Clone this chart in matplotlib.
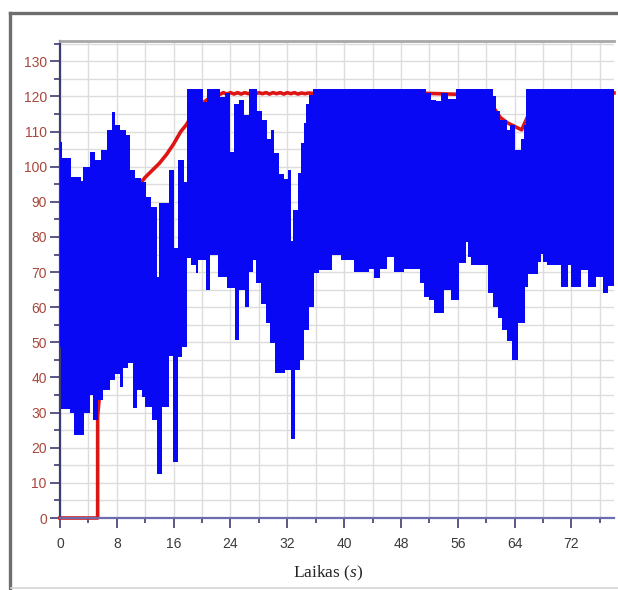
import matplotlib
matplotlib.use("Agg")
import matplotlib.pyplot as plt
import numpy as np
from matplotlib.lines import Line2D
from matplotlib.ticker import MultipleLocator

plt.rcParams["mathtext.fontset"] = "custom"
plt.rcParams["mathtext.rm"] = "Liberation Serif"
plt.rcParams["mathtext.it"] = "Liberation Serif:italic"

# --- signal envelope (blue band), step breakpoints in seconds ---
upper_t = [0, 0.3, 1.6, 3.0, 3.3, 4.2, 4.9, 5.8, 6.6, 7.3, 7.8, 8.5, 9.3, 9.9,
           10.5, 11.4, 12.1, 12.8, 13.6, 14.0, 15.4, 16.1, 16.6, 17.5, 17.9,
           20.2, 20.7, 22.5, 23.2, 24.0, 24.5, 25.2, 25.9, 26.6, 27.8, 28.5,
           29.2, 29.7, 30.1, 30.8, 31.6, 32.1, 32.5, 32.8, 33.5, 34.0, 34.4,
           34.7, 35.1, 35.6, 51.6, 52.2, 53.0, 53.7, 54.6, 55.8, 61.0, 61.4,
           61.9, 62.9, 63.3, 64.0, 64.9, 65.3, 65.6, 78.0]
upper_v = [107, 102.4, 97, 96, 100, 104.2, 101.8, 104.7, 110.4, 115.6, 111.8,
           110.5, 109, 99, 96.7, 95.7, 91.4, 88.6, 68.7, 89.6, 99, 77, 101.8,
           95.7, 122.2, 118.4, 122.2, 119.9, 121, 104.2, 118, 119, 114.7,
           122.2, 116, 113.2, 108, 110.4, 103.8, 98, 96.5, 99, 79, 87.6, 98.3,
           106.7, 112.4, 118, 120.5, 122.2, 121, 119, 118.8, 121, 119.3, 122.2,
           120, 116, 113.2, 110.4, 112, 104.7, 108, 112, 122.2, 122.2]

lower_t = [0, 0.2, 1.4, 2.0, 3.4, 4.2, 4.7, 5.4, 6.1, 7.0, 7.7, 8.4, 8.8, 9.6,
           10.3, 10.8, 11.5, 12.0, 12.9, 13.6, 14.3, 15.4, 15.9, 16.6, 17.2,
           17.9, 18.4, 19.2, 19.4, 20.6, 21.1, 22.3, 23.5, 24.7, 25.2, 26.1,
           26.6, 27.2, 27.6, 28.3, 29.0, 29.6, 30.3, 31.7, 32.5, 33.1, 33.8,
           34.4, 35.1, 35.8, 36.5, 38.3, 39.5, 41.4, 43.5, 44.2, 45.1, 46.0,
           47.0, 48.4, 50.7, 51.3, 51.9, 52.6, 54.0, 55.0, 56.2, 57.1, 57.5,
           57.9, 60.3, 61.0, 61.7, 62.3, 62.9, 63.6, 64.5, 65.5, 65.9, 67.3,
           67.7, 68.0, 68.5, 70.6, 71.5, 72.0, 73.4, 74.3, 75.5, 76.4, 77.1,
           78.0]
lower_v = [48.7, 31, 29.9, 23.5, 30, 35, 28, 33.6, 36.4, 39.3, 41, 37.4, 42.6,
           44, 31.3, 36.4, 34.5, 31.7, 27.9, 12.5, 31.7, 46, 16, 45.9, 48.7,
           74, 72, 69.7, 73.4, 64.9, 74.8, 68.6, 65.5, 50.6, 65, 60.1, 70,
           73.4, 67, 61, 55.4, 49.8, 41.2, 42, 22.5, 42, 45, 53.5, 60, 69.7,
           70.5, 74.8, 73.5, 70, 71, 68.2, 71, 74.3, 70, 71, 67, 63, 62, 58.3,
           64.9, 62, 72.5, 78.6, 74.3, 72, 64, 60, 57, 53.5, 50.5, 45, 55.4,
           65.8, 69.6, 73, 75.2, 73, 72, 65.8, 72, 65.8, 70.5, 65.8, 68.6, 64,
           66, 66]

# --- reference trace (red) ---
red_t = [0, 5.3, 5.3, 6, 7, 8, 9, 10, 11, 12, 13, 14, 15, 16, 17, 17.8, 19, 20,
         21, 22, 22.5, 23, 23.5, 24, 24.5, 25, 25.5, 26, 26.5, 27, 27.5, 28,
         28.5, 29, 29.5, 30, 30.5, 31, 31.5, 32, 32.5, 33, 33.5, 34, 34.5, 35,
         35.5, 40, 50, 58, 60, 61, 62, 63, 64, 65, 66, 67, 78]
red_v = [0, 0, 29, 45, 62, 75, 84, 90, 94.5, 97, 99, 101, 103.5, 106.5, 110,
         112, 116, 118, 119.5, 120.5, 120.6, 121.1, 120.7, 121.1, 120.7, 121.1,
         120.7, 121.1, 120.8, 121.1, 120.7, 121.1, 120.8, 121.1, 120.7, 121.1,
         120.8, 121.1, 120.7, 121.1, 120.8, 121.1, 120.7, 121.0, 120.8, 121,
         120.9, 121, 121, 120.5, 119.5, 117, 114, 112.5, 111.5, 110.5, 115,
         121, 121]

x_major = 8
y_major = 10

fig = plt.figure(figsize=(6.18, 5.90), dpi=100)
fig.patch.set_facecolor("white")

# page frame around the chart
frame_kw = dict(color="#6e6e6e", lw=2.4, transform=fig.transFigure)
fig.add_artist(Line2D([9.5 / 618, 9.5 / 618], [0, 1 - 13 / 590], **frame_kw))
fig.add_artist(Line2D([9.5 / 618, 1], [1 - 13 / 590, 1 - 13 / 590], **frame_kw))
fig.add_artist(Line2D([11 / 618, 1], [2.5 / 590, 2.5 / 590], color="#d6d6d6",
                      lw=1.2, transform=fig.transFigure))

ax = fig.add_axes([60 / 618, 72 / 590, 554 / 618, 477 / 590])
ax.set_xlim(0, 78)
ax.set_ylim(0, 135.8)

ax.plot(red_t, red_v, color="#dd1515", lw=2.6, zorder=2, clip_on=False,
        solid_joinstyle="round")

# step band on a shared time base
t_all = np.unique(np.concatenate([upper_t, lower_t]))
hi = np.array(upper_v)[np.searchsorted(upper_t, t_all, side="right") - 1]
lo = np.array(lower_v)[np.searchsorted(lower_t, t_all, side="right") - 1]
ax.fill_between(t_all, lo, hi, step="post", color="#0808f4", lw=0, zorder=3)

# grid
ax.xaxis.set_major_locator(MultipleLocator(x_major))
ax.xaxis.set_minor_locator(MultipleLocator(x_major / 2))
ax.yaxis.set_major_locator(MultipleLocator(y_major))
ax.yaxis.set_minor_locator(MultipleLocator(y_major / 2))
ax.grid(True, which="both", color="#dcdcdc", lw=1.0, zorder=0)
ax.set_axisbelow(True)

ax.spines["right"].set_visible(False)
ax.spines["top"].set_color("#a8a8a8")
ax.spines["top"].set_linewidth(2.0)
ax.spines["left"].set_color("#3c3c6e")
ax.spines["left"].set_linewidth(1.6)
ax.spines["bottom"].set_color("#6c6cae")
ax.spines["bottom"].set_linewidth(1.6)

ax.tick_params(axis="y", which="major", length=7, width=1.2, color="#3c3c6e",
               labelcolor="#a8483c", labelsize=10, pad=2.5)
ax.tick_params(axis="y", which="minor", length=4.3, width=1.2, color="#3c3c6e")
ax.tick_params(axis="x", which="major", length=7, width=1.2, color="#3c3c6e",
               labelcolor="#3a3a3a", labelsize=10, pad=7)
ax.tick_params(axis="x", which="minor", length=3.5, width=1.2, color="#3c3c6e")
for lab in ax.get_xticklabels() + ax.get_yticklabels():
    lab.set_family("Liberation Sans")

ax.set_xlabel(r"Laikas ($\mathit{s}$)", family="Liberation Serif", fontsize=12.5,
              color="#222222", labelpad=4)
ax.xaxis.set_label_coords(0.484, -0.095)

fig.savefig("out.png", dpi=100)
